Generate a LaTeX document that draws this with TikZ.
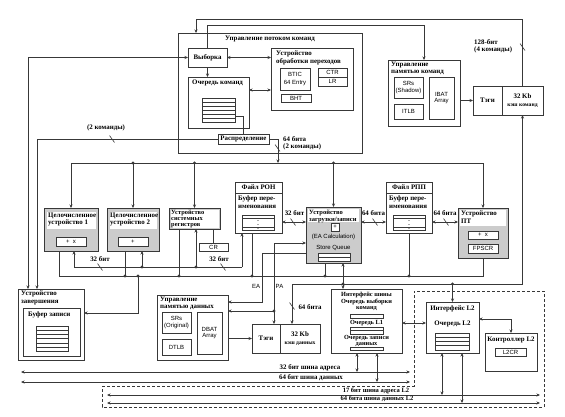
\documentclass[tikz,border=0pt]{standalone}
\usepackage{fontspec}
\setmainfont{Liberation Serif}
\setsansfont{Liberation Sans}
\usetikzlibrary{arrows.meta}

\definecolor{linec}{gray}{0.22}
\definecolor{unitgray}{gray}{0.80}

\newcommand{\ttlfont}{\fontsize{6.9}{7.2}\selectfont\bfseries}
\newcommand{\sffont}{\fontsize{6}{6.8}\selectfont\sffamily}
% box from (x1,y1) to (x2,y2), y counted downwards
\newcommand{\blk}[7][]{\node[blk,#1,minimum width={(#5)-(#3)},minimum height={(#6)-(#4)}] (#2) at (#3,#4) {#7};}
% bus width mark
\newcommand{\slmark}[2]{\draw[wire] (#1-2.5,#2-3.5) -- (#1+2.5,#2+3.5);}

\tikzset{
  blk/.style={draw=linec, line width=0.6pt, fill=white, inner sep=0pt, outer sep=0pt,
              anchor=north west, align=center, font=\ttlfont},
  sfbox/.style={blk, font=\sffont},
  unit/.style={blk, fill=unitgray},
  row/.style={blk, minimum width=33pt, minimum height=4pt},
  ttl/.style={inner sep=0pt, anchor=north west, align=left, font=\ttlfont},
  sflbl/.style={inner sep=0pt, font=\sffont},
  wire/.style={draw=linec, line width=0.6pt},
  jn/.style={circle, fill=linec, inner sep=0pt, minimum size=3.2pt},
  dashbox/.style={draw=linec, line width=0.6pt, dash pattern=on 3pt off 2pt}
}

\begin{document}
\begin{tikzpicture}[x=1pt,y=-1pt,>={Stealth[length=3.5pt,width=3pt]}]
\useasboundingbox (0,0) rectangle (565,416);

% L2 area
\draw[dashbox] (102,386) -- (414,386) -- (414,291) -- (544,291) -- (544,407) -- (102,407) -- cycle;

% instruction flow
\blk{ifu}{178}{33}{362}{153}{}
\node[ttl,anchor=north] (ifuT) at (270,36) {Управление потоком команд};
\blk{fetch}{188}{48}{227}{67}{Выборка}
\blk{bpu}{271}{48}{353}{110}{}
\node[ttl] (bpuT) at (276,51) {Устройство\\обработки переходов};
\blk[sfbox]{btic}{280}{68}{310}{90}{BTIC\\[2pt]64 Entry}
\blk[sfbox]{ctr}{318}{68}{347}{77}{CTR}
\blk[sfbox]{lr}{318}{77}{347}{86}{LR}
\blk[sfbox]{bht}{281}{94}{311}{102}{BHT}
\blk{iq}{188}{77}{249}{128}{}
\node[ttl] (iqT) at (192,80) {Очередь команд};
\foreach \i in {0,...,5} \node[row] (iqr\i) at (202,98+4*\i) {};
\blk{disp}{218}{134}{269}{144}{Распределение}

% instruction MMU and cache
\blk{immu}{388}{60}{460}{126}{}
\node[ttl] (immuT) at (391,62) {Управление\\памятью команд};
\blk[sfbox]{srsI}{394}{77}{423}{98}{SRs\\(Shadow)}
\blk[sfbox]{itlb}{394}{104}{423}{119}{ITLB}
\blk[sfbox]{ibat}{429}{77}{454}{119}{IBAT\\Array}
\blk{itag}{473}{86}{502}{115}{Тэги}
\blk{icache}{502}{86}{543}{115}{32 Kb\\{\fontsize{5.6}{6}\selectfont кэш команд}}

% execution units
\blk[unit]{iuA}{44}{208}{98}{251}{}
\fill[white] (47,212) rectangle (96,229);
\node[ttl] (iuAT) at (48,213) {Целочисленное\\устройство 1};
\blk[sfbox]{iuAop}{56}{237}{86}{246}{+ \ x}
\blk[unit]{iuB}{107}{208}{159}{251}{}
\fill[white] (110,212) rectangle (157,229);
\node[ttl] (iuBT) at (110,213) {Целочисленное\\устройство 2};
\blk[sfbox]{iuBop}{118}{237}{148}{246}{+}
\blk[unit]{sru}{169}{208}{220}{229}{}
\fill[white] (170.5,209.5) rectangle (218.5,227.5);
\node[ttl,font=\fontsize{6.4}{6.4}\selectfont\bfseries] (sruT) at (171,209.5) {Устройство\\системных\\регистров};
\blk[sfbox]{cr}{199}{243}{228}{251}{CR}

\blk{gpr}{235}{182}{282}{233}{}
\draw[wire] (gpr.west |- 0,193) -- (gpr.east |- 0,193);
\node[ttl,anchor=north] (gprT) at (258.5,184.5) {Файл РОН};
\node[ttl] (gprB) at (238,196) {Буфер пере-\\именования};
\blk{gprq}{242}{215}{274}{230}{{\fontsize{6}{6}\selectfont$\vdots$}}
\draw[wire] (gprq.west |- 0,218) -- (gprq.east |- 0,218) (gprq.west |- 0,227) -- (gprq.east |- 0,227);

\blk[unit]{lsu}{306}{207}{361}{263}{}
\fill[white] (308,209) rectangle (359,221.5);
\node[ttl,font=\fontsize{6.5}{7}\selectfont\bfseries] (lsuT) at (309,210) {Устройство\\загрузки/записи};
\blk[sfbox]{eac}{331}{223}{339}{231}{+}
\node[sflbl] (eaT) at (333.5,237) {(EA Calculation)};
\node[sflbl] (sqT) at (333.5,247.5) {Store Queue};
\blk{sq}{318}{253}{350}{261}{}
\draw[wire] (sq.west) -- (sq.east);

\blk{fpr}{386}{182}{432}{233}{}
\draw[wire] (fpr.west |- 0,193) -- (fpr.east |- 0,193);
\node[ttl,anchor=north] (fprT) at (409,184.5) {Файл РПП};
\node[ttl] (fprB) at (389,196) {Буфер пере-\\именования};
\blk{fprq}{393}{215}{425}{230}{{\fontsize{6}{6}\selectfont$\vdots$}}
\draw[wire] (fprq.west |- 0,218) -- (fprq.east |- 0,218) (fprq.west |- 0,227) -- (fprq.east |- 0,227);

\blk[unit]{fpu}{458}{208}{508}{258}{}
\fill[white] (460,210) rectangle (506,226);
\node[ttl] (fpuT) at (461,211) {Устройство\\ПТ};
\blk[sfbox]{fpuop}{468}{231}{498}{239}{+ \ x}
\blk[sfbox]{fpscr}{468}{244}{498}{253}{FPSCR}

% completion, data MMU, data cache
\blk{cu}{18}{289}{84}{360}{}
\node[ttl] (cuT) at (21,291) {Устройство\\завершения};
\blk{wb}{23}{308}{80}{356}{}
\node[ttl] (wbT) at (28,312) {Буфер записи};
\foreach \i in {0,...,5} \node[row,minimum width=32pt,minimum height=4.2pt] (wbr\i) at (36,326+4.2*\i) {};

\blk{dmmu}{157}{295}{228}{360}{}
\node[ttl] (dmmuT) at (160,297) {Управление\\памятью данных};
\blk[sfbox]{srsD}{162}{312}{191}{333}{SRs\\(Original)}
\blk[sfbox]{dtlb}{162}{339}{191}{355}{DTLB}
\blk[sfbox]{dbat}{197}{312}{222}{354}{DBAT\\Array}
\blk{dtag}{252}{324}{280}{353}{Тэги}
\blk{dcache}{280}{324}{320}{353}{32 Kb\\{\fontsize{5.6}{6}\selectfont кэш данных}}

% bus interface and L2
\blk{biu}{331}{289}{402}{353}{}
\node[ttl,anchor=north,align=center,font=\fontsize{6.3}{6.7}\selectfont\bfseries] (biuT) at (366.5,291.5) {Интерфейс шины\\[0.5pt]Очередь выборки\\команд};
\blk{biuq1}{350}{314}{383}{318}{}
\node[ttl,anchor=north,font=\fontsize{6.3}{6.7}\selectfont\bfseries] (biuL1) at (366.5,320) {Очередь L1};
\blk{biuq2}{350}{327}{383}{334}{}
\draw[wire] (biuq2.west) -- (biuq2.east);
\node[ttl,anchor=north,align=center,font=\fontsize{6.3}{6.1}\selectfont\bfseries] (biuW) at (366.5,335) {Очередь записи\\данных};
\blk{biuq3}{350}{347}{383}{350}{}

\blk{l2if}{426}{302}{479}{353}{}
\node[ttl,anchor=north] (l2ifT) at (452.5,306) {Интерфейс L2};
\node[ttl,anchor=north] (l2qT) at (452.5,321) {Очередь L2};
\foreach \i in {0,...,3} \node[row,minimum width=34pt,minimum height=4.25pt] (l2r\i) at (435,333+4.25*\i) {};
\blk{l2c}{485}{333}{537}{371}{}
\node[ttl,anchor=north] (l2cT) at (511,337) {Контроллер L2};
\blk[sfbox]{l2cr}{495}{348}{526}{356}{L2CR}

% instruction paths
\draw[wire,->] (icache.north) -- ++(0,-67) -| ([xshift=18pt]ifu.north west);
\slmark{522.5}{47}
\node[ttl] (w128) at (474,39) {128-бит\\(4 команды)};
\draw[wire,->] (fetch.north) -- ++(0,-23) -| (immu.north);
\draw[wire,<->] (fetch.west) -| ([xshift=10pt]cu.north west);
\draw[wire,->] (disp.west) -| ([xshift=19pt]cu.north west);
\slmark{112}{139}
\node[ttl,anchor=center] (w2c) at (106,128) {(2 команды)};
\draw[wire,<->] (fetch.east) -- (fetch.east -| bpu.west);
\draw[wire,->] (fetch.south) -- (fetch.south |- iq.north);
\draw[wire,<->] ([yshift=12.5pt]iq.east) -- ([yshift=12.5pt]iq.east -| bpu.west);
\draw[wire] (iqr4.east) -| (disp.north);
\coordinate (dsp) at (278,163);
\draw[wire,->] (disp.east) -| (dsp);
\slmark{277.5}{148}
\node[ttl] (w64d) at (283,136) {64 бита\\(2 команды)};
\draw[wire,->] (immu.east |- itag.west) -- (itag.west);

% issue bus
\coordinate (ib) at (0,163);
\draw[wire] (iuA.north |- ib) -- (fpu.north |- ib);
\foreach \u in {iuA,iuB,sru,lsu,fpu} \draw[wire,->] (\u.north |- ib) -- (\u.north);

% operand bus
\coordinate (ob) at (0,267);
\coordinate (oA) at ([xshift=3pt]iuA.south);
\coordinate (oB) at ([xshift=9pt]iuB.south);
\coordinate (oS) at ([xshift=1.5pt]sru.south);
\coordinate (oG) at ([xshift=-16.5pt]gpr.south);
\draw[wire] (oA |- ob) -- (oG |- ob);
\foreach \c in {oA,oB,oS,oG} \draw[wire,->] (\c |- ob) -- (\c);
\slmark{100}{267}
\node[ttl,anchor=center] (w32l) at (100,259) {32 бит};
\slmark{223}{267}
\node[ttl,anchor=center] (w32r) at (219,259) {32 бит};

% result bus
\coordinate (rb) at (0,276);
\coordinate (rA) at ([xshift=-12pt]iuA.south);
\coordinate (rB) at ([xshift=-8pt]iuB.south);
\coordinate (rS) at ([xshift=-15.5pt]sru.south);
\coordinate (rG) at ([xshift=-6.5pt]gpr.south);
\coordinate (rL) at ([xshift=-8.5pt]lsu.south);
\coordinate (rF) at (fpr.south);
\draw[wire] (rA) |- (fpu.south |- rb) -- (fpu.south);
\foreach \c in {rB,rS,rG,rL,rF} \draw[wire] (\c) -- (\c |- rb);
\coordinate (wbx) at (138,276);
\draw[wire,->] (wbx) |- (cu.east |- 0,313);
\draw[wire] (cr.north) -- (cr.north |- sru.south);

% register files and load/store
\coordinate (rw) at (0,222);
\draw[wire,<->] (gpr.east |- rw) -- (lsu.west |- rw);
\draw[wire,<->] (lsu.east |- rw) -- (fpr.west |- rw);
\draw[wire,<->] (fpr.east |- rw) -- (fpu.west |- rw);
\slmark{293}{222} \slmark{375}{222} \slmark{446}{222}
\node[ttl,anchor=base] (w32g) at (294.5,215) {32 бит};
\node[ttl,anchor=base] (w64g) at (373.5,215) {64 бита};
\node[ttl,anchor=base] (w64f) at (445,215) {64 бита};

% EA / PA
\coordinate (ea) at (262,302);
\coordinate (pa) at (274,311);
\draw[wire,->] (lsu.west |- 0,253) -| (ea) -- (dmmu.east |- ea);
\draw[wire,<->] (lsu.west |- 0,243) -| ([xshift=-6pt]dtag.north east);
\draw[wire,->] (pa) -- (dmmu.east |- pa);
\node[sflbl] (eaL) at (256,286) {EA};
\node[sflbl] (paL) at (279.5,286) {PA};
\draw[wire,->] (dmmu.east |- dtag.west) -- (dtag.west);

% cache reload line
\coordinate (lb) at (0,284);
\draw[wire,<->] (icache.south) -- (icache.south |- lb) -| ([xshift=12pt]dcache.north west);
\slmark{292}{306}
\node[ttl,anchor=center] (w64c) at (310,307) {64 бита};
\coordinate (lx) at ([xshift=9.5pt]lsu.south);
\draw[wire,<->] (lx) -- (lx |- biu.north);
\draw[wire,->] (l2if.north |- lb) -- (l2if.north);

% bus interface links
\draw[wire,<->] (biu.east |- 0,323) -- (l2if.west |- 0,323);
\draw[wire,<->] (l2if.east |- 0,319) -| (l2c.north);

% external buses
\coordinate (abW) at (21,372);  \coordinate (abE) at (410,372);
\coordinate (dbW) at (21,382);  \coordinate (dbE) at (410,382);
\coordinate (l2aW) at (107,395); \coordinate (l2aE) at (540,395);
\coordinate (l2dW) at (107,403); \coordinate (l2dE) at (540,403);
\draw[wire,<->] (abW) -- (abE);
\draw[wire,<->] (dbW) -- (dbE);
\draw[wire,<->] (l2aW) -- (l2aE);
\draw[wire,<->] (l2dW) -- (l2dE);
\node[ttl,anchor=base] (abT) at (310,369) {32 бит шина адреса};
\node[ttl,anchor=base] (dbT) at (311,379) {64 бит шина данных};
\node[ttl,anchor=base,font=\fontsize{6.5}{7}\selectfont\bfseries] (l2aT) at (376,392.3) {17 бит шина адреса L2};
\node[ttl,anchor=base,font=\fontsize{6.5}{7}\selectfont\bfseries] (l2dT) at (377,400.3) {64 бита шина данных L2};
\coordinate (bA) at ([xshift=-9.5pt]biu.south);
\coordinate (bD) at ([xshift=10.5pt]biu.south);
\coordinate (qA) at ([xshift=-10.5pt]l2if.south);
\coordinate (qD) at ([xshift=9.5pt]l2if.south);
\draw[wire,<->] (bA) -- (bA |- abW);
\draw[wire,<->] (bD) -- (bD |- dbW);
\draw[wire,<->] (qA) -- (qA |- l2aW);
\draw[wire,<->] (qD) -- (qD |- l2dW);

% junctions
\foreach \p [count=\k] in {(133,163),(194.5,163),(333.5,163),(142,267),(196,267),
    (125,276),(138,276),(179,276),(252,276),(325,276),(409,276),(343,284),(452.5,284),(274,311)}
  \node[jn] (j\k) at \p {};

\end{tikzpicture}
\end{document}
